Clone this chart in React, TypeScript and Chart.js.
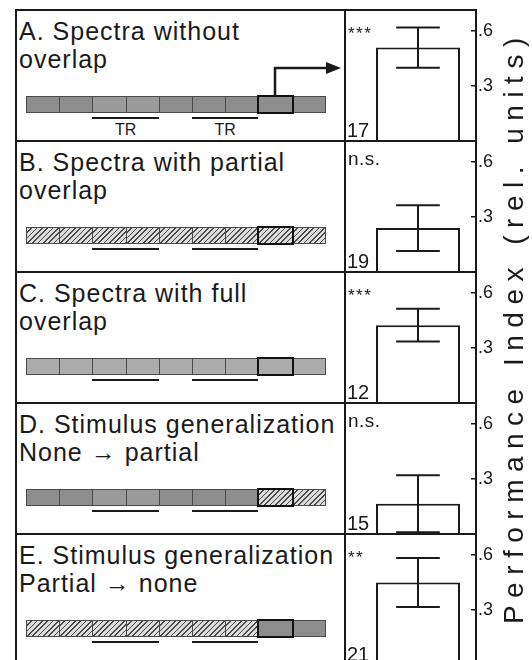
import React, { useEffect, useRef } from 'react';
import { Chart, registerables } from 'chart.js';

Chart.register(...registerables);

// ---------------- data ----------------
const PANEL_IDS = ['A', 'B', 'C', 'D', 'E'];
const PANEL_TITLES = [
  ['A. Spectra without', 'overlap'],
  ['B. Spectra with partial', 'overlap'],
  ['C. Spectra with full', 'overlap'],
  ['D. Stimulus generalization', 'None \u2192 partial'],
  ['E. Stimulus generalization', 'Partial \u2192 none'],
];
// g = gray, m = mid gray, l = light gray, h = hatched
const STRIP_CELLS = ['ggmmggggg', 'hhhhhhhhh', 'lllllllll', 'ggmmggghh', 'hhhhhhhgg'];
const TEST_CELL = 7;
const TR_RANGES = [[2, 3], [5, 6]];
const TR_LABEL = 'TR';
const CATEGORY = ['Performance'];
const MEANS = [0.51, 0.24, 0.425, 0.165, 0.45];
const SEMS = [0.11, 0.125, 0.09, 0.155, 0.134];
const N_LABELS = ['17', '19', '12', '15', '21'];
const SIG_LABELS = ['***', 'n.s.', '***', 'n.s.', '**'];
const TICK_VALUES = [0.3, 0.6];
const TICK_LABELS = ['.3', '.6'];
const Y_MIN = 0;
const Y_MAX = 0.715;
const AXIS_TITLE = 'Performance Index (rel. units)';

// ---------------- layout / style ----------------
const INK = '#1a1a1a';
const FONT = "'Liberation Sans', Arial, Helvetica, sans-serif";
const FRAME_LEFT = 16;
const TOP = 10;
const PANEL_H = 131;
const DIVIDER_X = 345;
const AXIS_X = 476;
const CANVAS_W = 532 - DIVIDER_X;
const CANVAS_H = 680;
const STRIP_X = 10;
const STRIP_Y = 86;
const CELL_W = 33.2;
const CELL_H = 17;

const CELL_BG: Record<string, string> = {
  g: '#8d8d8d',
  m: '#9a9a9a',
  l: '#acacac',
  h: 'repeating-linear-gradient(135deg, #dcdcdc 0px, #dcdcdc 2.6px, #4a4a4a 2.6px, #4a4a4a 3.8px)',
};

function Strip({ index }: { index: number }) {
  const codes = STRIP_CELLS[index].split('');
  return (
    <>
      {codes.map((c, k) => (
        <div
          key={k}
          style={{
            position: 'absolute',
            left: STRIP_X + k * CELL_W,
            top: STRIP_Y,
            width: CELL_W + 1,
            height: CELL_H,
            boxSizing: 'border-box',
            border: '1px solid #4a4a4a',
            background: CELL_BG[c],
          }}
        />
      ))}
      <div
        style={{
          position: 'absolute',
          left: STRIP_X + TEST_CELL * CELL_W - 1,
          top: STRIP_Y - 1,
          width: CELL_W + 3,
          height: CELL_H + 2,
          boxSizing: 'border-box',
          border: '2.5px solid #111',
        }}
      />
      {TR_RANGES.map(([a, b], k) => (
        <div
          key={'tr' + k}
          style={{
            position: 'absolute',
            left: STRIP_X + a * CELL_W,
            top: STRIP_Y + CELL_H + 4,
            width: (b - a + 1) * CELL_W,
            height: 2,
            background: INK,
          }}
        />
      ))}
      {index === 0 &&
        TR_RANGES.map(([a, b], k) => (
          <div
            key={'lbl' + k}
            style={{
              position: 'absolute',
              left: STRIP_X + a * CELL_W,
              top: STRIP_Y + CELL_H + 9,
              width: (b - a + 1) * CELL_W,
              textAlign: 'center',
              fontSize: 16,
              lineHeight: '15px',
            }}
          >
            {TR_LABEL}
          </div>
        ))}
    </>
  );
}

function TextPanel({ index }: { index: number }) {
  return (
    <div
      style={{
        position: 'absolute',
        left: FRAME_LEFT,
        top: TOP + index * PANEL_H,
        width: DIVIDER_X - FRAME_LEFT,
        height: PANEL_H,
      }}
    >
      <div
        style={{
          position: 'absolute',
          left: 3,
          top: 7,
          fontSize: 25,
          lineHeight: '28px',
          letterSpacing: 1,
          whiteSpace: 'nowrap',
        }}
      >
        {PANEL_TITLES[index].map((l, k) => (
          <div key={k}>{l}</div>
        ))}
      </div>
      <Strip index={index} />
    </div>
  );
}

function drawSpaced(ctx: CanvasRenderingContext2D, text: string, x: number, y: number, spacing: number) {
  let cx = x;
  for (const ch of text) {
    ctx.fillText(ch, cx, y);
    cx += ctx.measureText(ch).width + spacing;
  }
}
function spacedWidth(ctx: CanvasRenderingContext2D, text: string, spacing: number) {
  let w = 0;
  const chars = Array.from(text);
  chars.forEach((ch) => (w += ctx.measureText(ch).width));
  return w + spacing * (chars.length - 1);
}

export default function App() {
  const canvasRef = useRef<HTMLCanvasElement | null>(null);

  useEffect(() => {
    const canvas = canvasRef.current;
    if (!canvas) return;

    const panelPlugin = {
      id: 'panelDecor',
      afterDatasetsDraw(chart: any) {
        const ctx: CanvasRenderingContext2D = chart.ctx;
        const area = chart.chartArea;
        ctx.save();
        ctx.strokeStyle = INK;
        ctx.fillStyle = INK;
        ctx.lineWidth = 2;
        chart.data.datasets.forEach((_ds: any, i: number) => {
          const meta = chart.getDatasetMeta(i);
          const bar = meta.data[0];
          const { x, width } = bar.getProps(['x', 'width'], true);
          const ys = chart.scales[meta.yAxisID];
          const yHi = ys.getPixelForValue(MEANS[i] + SEMS[i]);
          const yLo = ys.getPixelForValue(MEANS[i] - SEMS[i]);
          const half = width * 0.26;
          ctx.beginPath();
          ctx.moveTo(x, yHi);
          ctx.lineTo(x, yLo);
          ctx.moveTo(x - half, yHi);
          ctx.lineTo(x + half, yHi);
          ctx.moveTo(x - half, yLo);
          ctx.lineTo(x + half, yLo);
          ctx.stroke();

          // significance label
          const sig = SIG_LABELS[i];
          const stars = /^\*+$/.test(sig);
          ctx.textAlign = 'left';
          ctx.textBaseline = 'alphabetic';
          ctx.font = `${stars ? 17 : 19}px ${FONT}`;
          drawSpaced(ctx, sig, area.left - 12, ys.top + (stars ? 29 : 24), stars ? 1.5 : 0.5);

          // N label
          ctx.font = `20px ${FONT}`;
          ctx.fillText(N_LABELS[i], area.left - 13, ys.bottom - 4);
        });
        ctx.restore();
      },
      afterDraw(chart: any) {
        const ctx: CanvasRenderingContext2D = chart.ctx;
        const area = chart.chartArea;
        ctx.save();
        ctx.fillStyle = INK;
        ctx.font = `28px ${FONT}`;
        ctx.textBaseline = 'alphabetic';
        ctx.textAlign = 'left';
        const spacing = 7.5;
        const total = spacedWidth(ctx, AXIS_TITLE, spacing);
        const cy = area.top + (area.bottom - area.top) * 0.49;
        ctx.translate(chart.width - 9, cy);
        ctx.rotate(-Math.PI / 2);
        drawSpaced(ctx, AXIS_TITLE, -total / 2, 0, spacing);
        ctx.restore();
      },
    };

    const yScales: Record<string, any> = {};
    PANEL_IDS.forEach((id) => {
      yScales['y' + id] = {
        type: 'linear',
        position: 'right',
        stack: 'panels',
        stackWeight: 1,
        min: Y_MIN,
        max: Y_MAX,
        afterBuildTicks: (s: any) => {
          s.ticks = TICK_VALUES.map((v) => ({ value: v }));
        },
        afterFit: (s: any) => {
          s.width = CANVAS_W - (AXIS_X - DIVIDER_X);
          s.paddingTop = 0;
          s.paddingBottom = 0;
        },
        ticks: {
          callback: (v: number) => TICK_LABELS[TICK_VALUES.indexOf(v)] ?? '',
          font: { size: 18, family: FONT },
          color: INK,
          padding: 7,
          autoSkip: false,
        },
        grid: {
          drawOnChartArea: false,
          drawTicks: true,
          tickLength: -5,
          color: INK,
          lineWidth: 1.5,
        },
        border: { display: true, color: INK, width: 2 },
      };
    });

    const chart = new Chart(canvas, {
      type: 'bar',
      data: {
        labels: CATEGORY,
        datasets: PANEL_IDS.map((id, i) => ({
          label: id,
          data: [MEANS[i]],
          yAxisID: 'y' + id,
          backgroundColor: '#ffffff',
          borderColor: INK,
          borderWidth: 2,
          grouped: false,
          barPercentage: 0.724,
          categoryPercentage: 1,
        })),
      },
      options: {
        responsive: false,
        maintainAspectRatio: false,
        animation: false,
        devicePixelRatio: 1,
        layout: {
          padding: { left: 15, top: TOP, right: 0, bottom: CANVAS_H - (TOP + 5 * PANEL_H) },
        },
        plugins: {
          legend: { display: false },
          tooltip: { enabled: false },
          title: { display: false },
        },
        scales: {
          x: { type: 'category', display: false, offset: true },
          ...yScales,
        },
      } as any,
      plugins: [panelPlugin],
    });
    return () => chart.destroy();
  }, []);

  const arrowX = FRAME_LEFT + STRIP_X + (TEST_CELL + 0.5) * CELL_W;
  const arrowTopY = 68;
  const arrowTip = DIVIDER_X - 4;

  return (
    <div
      style={{
        position: 'absolute',
        left: 0,
        top: 0,
        width: 532,
        height: 660,
        overflow: 'hidden',
        background: '#fff',
        fontFamily: FONT,
        color: INK,
      }}
    >
      {PANEL_IDS.map((id, i) => (
        <TextPanel key={id} index={i} />
      ))}
      <canvas
        ref={canvasRef}
        width={CANVAS_W}
        height={CANVAS_H}
        style={{ position: 'absolute', left: DIVIDER_X, top: 0, width: CANVAS_W, height: CANVAS_H }}
      />
      {/* frame */}
      <div style={{ position: 'absolute', left: FRAME_LEFT - 1, top: TOP - 1, width: 2, height: 700, background: INK }} />
      <div style={{ position: 'absolute', left: DIVIDER_X - 1, top: TOP - 1, width: 2, height: 700, background: INK }} />
      {[0, 1, 2, 3, 4].map((k) => (
        <div
          key={k}
          style={{
            position: 'absolute',
            left: FRAME_LEFT - 1,
            top: TOP + k * PANEL_H - 1,
            width: AXIS_X - FRAME_LEFT + 2,
            height: 2,
            background: INK,
          }}
        />
      ))}
      <svg
        width={532}
        height={660}
        style={{ position: 'absolute', left: 0, top: 0, pointerEvents: 'none' }}
      >
        <polyline
          points={`${arrowX},${TOP + STRIP_Y - 1} ${arrowX},${arrowTopY} ${arrowTip - 13},${arrowTopY}`}
          fill="none"
          stroke={INK}
          strokeWidth={2.5}
        />
        <polygon
          points={`${arrowTip - 15},${arrowTopY - 6} ${arrowTip},${arrowTopY} ${arrowTip - 15},${arrowTopY + 6}`}
          fill={INK}
        />
      </svg>
    </div>
  );
}
